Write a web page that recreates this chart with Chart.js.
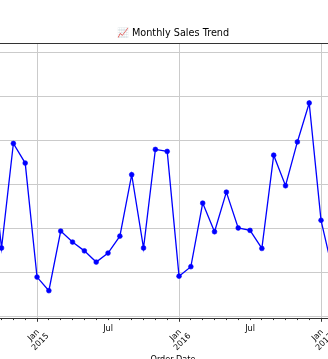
<!DOCTYPE html>
<html>
<head>
<meta charset="utf-8">
<script src="https://cdn.jsdelivr.net/npm/chart.js@4/dist/chart.umd.min.js"></script>
<style>
  body { margin: 0; overflow: hidden; background: #fff; }
  #wrap { width: 346px; height: 359px; }
</style>
</head>
<body>
<div id="wrap"><canvas id="salesChart"></canvas></div>
<script>
// monthly sales (first and last month sit just outside the frame)
const months = ['2014-09', '2014-10', '2014-11', '2014-12',
    '2015-01', '2015-02', '2015-03', '2015-04', '2015-05', '2015-06',
    '2015-07', '2015-08', '2015-09', '2015-10', '2015-11', '2015-12',
    '2016-01', '2016-02', '2016-03', '2016-04', '2016-05', '2016-06',
    '2016-07', '2016-08', '2016-09', '2016-10', '2016-11', '2016-12',
    '2017-01', '2017-02'];
const sales = [81000, 31300, 78800, 69900,
    18100, 11900, 39000, 34000, 30000, 24900,
    29000, 36700, 64600, 31300, 76100, 75200,
    18500, 22800, 51700, 38700, 56700, 40400,
    39300, 31100, 73500, 59600, 79500, 97200,
    43900, 20600];

const yTicks = [0, 20000, 40000, 60000, 80000, 100000, 120000];
const majorTicks = ['2015-01', '2016-01', '2017-01'];
const majorLabels = ['Jan\n2015', 'Jan\n2016', 'Jan\n2017'];
const minorTicks = ['2015-07', '2016-07'];
const minorLabels = ['Jul', 'Jul'];

const FONT = '"DejaVu Sans", sans-serif';

// months counted from Jan 2015
function monthIndex(s) {
    const [y, m] = s.split('-').map(Number);
    return (y - 2015) * 12 + (m - 1);
}

// pandas-style date labels: rotated year labels, flat "Jul" labels
const tickLabels = {
    id: 'tickLabels',
    afterDraw(chart) {
        const ctx = chart.ctx;
        const x = chart.scales.x;
        const bottom = chart.chartArea.bottom;
        ctx.save();
        ctx.fillStyle = '#000';
        ctx.strokeStyle = '#333';
        ctx.lineWidth = 1;
        ctx.font = '8.1px ' + FONT;
        ctx.textAlign = 'center';
        ctx.textBaseline = 'middle';
        majorTicks.forEach((m, i) => {
            const px = x.getPixelForValue(monthIndex(m));
            ctx.beginPath();
            ctx.moveTo(Math.round(px) + 0.5, bottom);
            ctx.lineTo(Math.round(px) + 0.5, bottom + 3.7);
            ctx.stroke();
            ctx.save();
            ctx.translate(px, bottom + 20.5);
            ctx.rotate(-Math.PI / 4);
            const lines = majorLabels[i].split('\n');
            lines.forEach((line, j) => {
                ctx.fillText(line, 0, (j - (lines.length - 1) / 2) * 9.6);
            });
            ctx.restore();
        });
        minorTicks.forEach((m, i) => {
            ctx.fillText(minorLabels[i], x.getPixelForValue(monthIndex(m)), bottom + 10.5);
        });
        ctx.restore();
    }
};

new Chart(document.getElementById('salesChart').getContext('2d'), {
    type: 'line',
    data: {
        datasets: [{
            label: 'Sales',
            data: months.map((m, i) => ({ x: monthIndex(m), y: sales[i] })),
            borderColor: '#0000ff',
            backgroundColor: '#0000ff',
            borderWidth: 1.3,
            pointRadius: 2.4,
            pointBorderWidth: 0.6,
            pointBackgroundColor: '#0000ff',
            pointBorderColor: '#0000ff',
            fill: false,
            tension: 0
        }]
    },
    options: {
        responsive: true,
        maintainAspectRatio: false,
        animation: false,
        layout: { padding: 0, autoPadding: false },
        plugins: {
            legend: { display: false },
            tooltip: { enabled: false },
            title: {
                display: true,
                text: '📈 Monthly Sales Trend',
                color: '#000',
                font: { family: FONT, size: 9.7, weight: 'normal' },
                padding: { top: 28, bottom: 3.4 }
            }
        },
        scales: {
            x: {
                type: 'linear',
                min: -3.13,
                max: 26.11,
                afterBuildTicks: (scale) => {
                    const ticks = [];
                    for (let v = Math.ceil(scale.min); v <= Math.floor(scale.max); v++) {
                        ticks.push({ value: v });
                    }
                    scale.ticks = ticks;
                },
                ticks: { display: false },
                grid: {
                    color: (c) => (c.tick && c.tick.value % 12 === 0) ? '#cbcbcb' : 'rgba(0,0,0,0)',
                    tickColor: '#333',
                    tickLength: 2,
                    lineWidth: 1
                },
                border: { display: true, color: '#333', width: 1 },
                title: {
                    display: true,
                    text: 'Order Date',
                    color: '#000',
                    font: { family: FONT, size: 8.1 },
                    padding: { top: 35.2, bottom: -6 }
                }
            },
            xTop: {
                type: 'linear',
                position: 'top',
                ticks: { display: false },
                grid: { display: false, drawTicks: false },
                border: { display: true, color: '#333', width: 1 }
            },
            y: {
                type: 'linear',
                min: -545,
                max: 124454,
                afterBuildTicks: (scale) => {
                    scale.ticks = yTicks.map(v => ({ value: v }));
                },
                ticks: { display: false },
                grid: { color: '#cbcbcb', drawTicks: false, lineWidth: 1 },
                border: { display: false }
            }
        }
    },
    plugins: [tickLabels]
});
</script>
</body>
</html>
